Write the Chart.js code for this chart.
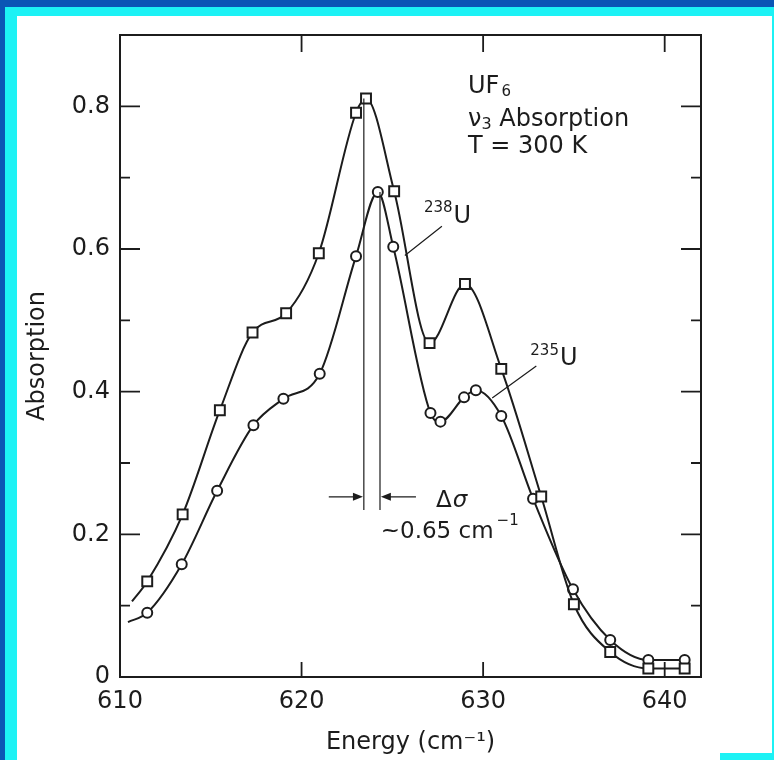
<!DOCTYPE html>
<html>
<head>
<meta charset="utf-8">
<script src="https://cdn.jsdelivr.net/npm/chart.js@4"></script>
<style>
html, body { margin: 0; padding: 0; width: 774px; height: 760px; overflow: hidden; background: #0b55b5; }
#cyan { position: absolute; left: 5px; top: 7px; width: 769px; height: 753px; background: #1cf2f5; }
#paper { position: absolute; left: 17px; top: 16px; width: 755px; height: 744px; background: #fff; }
#corner { position: absolute; left: 720px; top: 753px; width: 54px; height: 7px; background: #1cf2f5; }
#chart { position: absolute; left: 0; top: 0; }
</style>
</head>
<body>
<div id="cyan"></div>
<div id="paper"></div>
<div id="corner"></div>
<canvas id="chart" width="774" height="760"></canvas>
<script>
// 238U (squares); first entry is where the drawn curve starts, no marker there
const energy238 = [610.66, 611.5, 613.45, 615.5, 617.3, 619.15, 620.95, 623.0, 623.55, 625.1, 627.05, 629.0, 631.0, 633.2, 635.0, 637.0, 639.1, 641.1];
const absorb238 = [0.106, 0.134, 0.228, 0.374, 0.483, 0.510, 0.594, 0.791, 0.811, 0.681, 0.468, 0.551, 0.432, 0.253, 0.102, 0.035, 0.012, 0.012];

// 235U (circles)
const energy235 = [610.44, 611.5, 613.4, 615.35, 617.35, 619.0, 621.0, 623.0, 624.2, 625.05, 627.1, 627.65, 628.95, 629.6, 631.0, 632.75, 634.95, 637.0, 639.1, 641.1];
const absorb235 = [0.077, 0.090, 0.158, 0.261, 0.353, 0.390, 0.425, 0.590, 0.680, 0.603, 0.370, 0.358, 0.392, 0.402, 0.366, 0.250, 0.123, 0.052, 0.024, 0.024];

const xTicks = [610, 620, 630, 640];
const yTicks = [0, 0.2, 0.4, 0.6, 0.8];

const ink = '#1c1c1c';
const FONT = '"DejaVu Sans", sans-serif';

function pts(xs, ys) {
    return xs.map((x, i) => ({ x: x, y: ys[i] }));
}
function radii(xs, r) {
    return xs.map((x, i) => i === 0 ? 0 : r);
}

// frame, inward tick marks and the text/arrow annotations
const decor = {
    id: 'decor',
    afterDraw(chart) {
        const ctx = chart.ctx;
        const xs = chart.scales.x, ys = chart.scales.y;
        const a = chart.chartArea;
        const px = v => xs.getPixelForValue(v);
        const py = v => ys.getPixelForValue(v);
        ctx.save();
        ctx.strokeStyle = ink;
        ctx.fillStyle = ink;

        ctx.lineWidth = 2;
        ctx.strokeRect(a.left, a.top, a.right - a.left, a.bottom - a.top);

        ctx.lineWidth = 1.8;
        ctx.beginPath();
        xs.ticks.forEach(t => {
            if (t.value <= xs.min) return;
            const x = px(t.value);
            ctx.moveTo(x, a.top); ctx.lineTo(x, a.top + 17);
            ctx.moveTo(x, a.bottom); ctx.lineTo(x, a.bottom - 15);
        });
        ys.ticks.forEach(t => {
            if (t.value <= ys.min + 1e-9 || t.value >= ys.max - 1e-9) return;
            const y = py(t.value);
            const major = yTicks.some(v => Math.abs(v - t.value) < 1e-6);
            const len = major ? 20 : 10;
            ctx.moveTo(a.left, y); ctx.lineTo(a.left + len, y);
            ctx.moveTo(a.right, y); ctx.lineTo(a.right - len, y);
        });
        ctx.stroke();

        // delta sigma markers
        ctx.lineWidth = 1.2;
        ctx.beginPath();
        ctx.moveTo(px(623.43), py(0.811)); ctx.lineTo(px(623.43), py(0.234));
        ctx.moveTo(px(624.32), py(0.680)); ctx.lineTo(px(624.32), py(0.234));
        ctx.moveTo(px(621.5), py(0.2526)); ctx.lineTo(px(623.2), py(0.2526));
        ctx.moveTo(px(626.3), py(0.2526)); ctx.lineTo(px(624.55), py(0.2526));
        // leader lines
        ctx.moveTo(px(627.73), py(0.632)); ctx.lineTo(px(625.69), py(0.591));
        ctx.moveTo(px(632.93), py(0.436)); ctx.lineTo(px(630.5), py(0.391));
        ctx.stroke();

        function arrow(xTip, dir) {
            const x = px(xTip), y = py(0.2526);
            ctx.beginPath();
            ctx.moveTo(x, y);
            ctx.lineTo(x - dir * 10, y - 4);
            ctx.lineTo(x - dir * 10, y + 4);
            ctx.closePath();
            ctx.fill();
        }
        arrow(623.38, 1);
        arrow(624.37, -1);

        ctx.textBaseline = 'alphabetic';
        ctx.textAlign = 'left';
        function txt(s, x, y, size, style) {
            ctx.font = (style ? style + ' ' : '') + size + 'px ' + FONT;
            ctx.fillText(s, x, y);
            return x + ctx.measureText(s).width;
        }
        // title block
        let x0 = px(629.17);
        let e = txt('UF', x0, py(0.818), 24);
        txt('6', e + 2, py(0.818) + 3, 15);
        e = txt('\u03bd', x0, py(0.773), 24);
        e = txt('3', e, py(0.773) + 3, 16);
        txt(' Absorption', e, py(0.773), 24);
        txt('T = 300 K', x0, py(0.734), 24);

        // isotope labels
        e = txt('238', px(626.74), py(0.6515), 15);
        txt('U', e + 1, py(0.636), 24);
        e = txt('235', px(632.6), py(0.451), 15);
        txt('U', e + 1, py(0.437), 24);

        // delta sigma text
        e = txt('\u0394', px(627.4), py(0.238), 23);
        txt('\u03c3', e + 1, py(0.238), 23, 'italic');
        e = txt('~0.65 cm', px(624.36), py(0.1947), 23);
        txt('\u22121', e + 3, py(0.213), 15);
        ctx.restore();
    }
};

new Chart(document.querySelector('#chart').getContext('2d'), {
    type: 'line',
    data: {
        datasets: [
            {
                label: '238U',
                data: pts(energy238, absorb238),
                borderColor: ink,
                borderWidth: 2,
                pointStyle: 'rect',
                pointRadius: radii(energy238, 7),
                pointBorderWidth: 2,
                pointBorderColor: ink,
                pointBackgroundColor: '#fff',
                cubicInterpolationMode: 'monotone',
                fill: false
            },
            {
                label: '235U',
                data: pts(energy235, absorb235),
                borderColor: ink,
                borderWidth: 2,
                pointStyle: 'circle',
                pointRadius: radii(energy235, 5),
                pointBorderWidth: 2,
                pointBorderColor: ink,
                pointBackgroundColor: '#fff',
                cubicInterpolationMode: 'monotone',
                fill: false
            }
        ]
    },
    options: {
        responsive: false,
        animation: false,
        devicePixelRatio: 1,
        layout: { padding: { left: 0, top: 35, right: 73, bottom: 0 } },
        plugins: { legend: { display: false }, tooltip: { enabled: false } },
        scales: {
            x: {
                type: 'linear',
                min: 610,
                max: 642,
                afterFit: s => { s.height = 83; },
                grid: { display: false, drawTicks: false },
                border: { display: false },
                ticks: {
                    stepSize: 10,
                    includeBounds: false,
                    padding: 10,
                    color: ink,
                    font: { family: FONT, size: 24 },
                    maxRotation: 0,
                    callback: v => xTicks.includes(v) ? String(v) : ''
                },
                title: {
                    display: true,
                    text: 'Energy (cm\u207b\u00b9)',
                    color: ink,
                    font: { family: FONT, size: 24 },
                    padding: { top: 0, bottom: 3 }
                }
            },
            y: {
                min: 0,
                max: 0.9,
                afterFit: s => { s.width = 120; },
                grid: { display: false, drawTicks: false },
                border: { display: false },
                ticks: {
                    stepSize: 0.1,
                    includeBounds: false,
                    padding: 10,
                    color: ink,
                    font: { family: FONT, size: 24 },
                    callback: v => {
                        const hit = yTicks.find(t => Math.abs(t - v) < 1e-6);
                        if (hit === undefined) return '';
                        return hit === 0 ? '0' : hit.toFixed(1);
                    }
                },
                title: {
                    display: true,
                    text: 'Absorption',
                    color: ink,
                    font: { family: FONT, size: 24 },
                    padding: { top: 23, bottom: 0 }
                }
            }
        }
    },
    plugins: [decor]
});
</script>
</body>
</html>
